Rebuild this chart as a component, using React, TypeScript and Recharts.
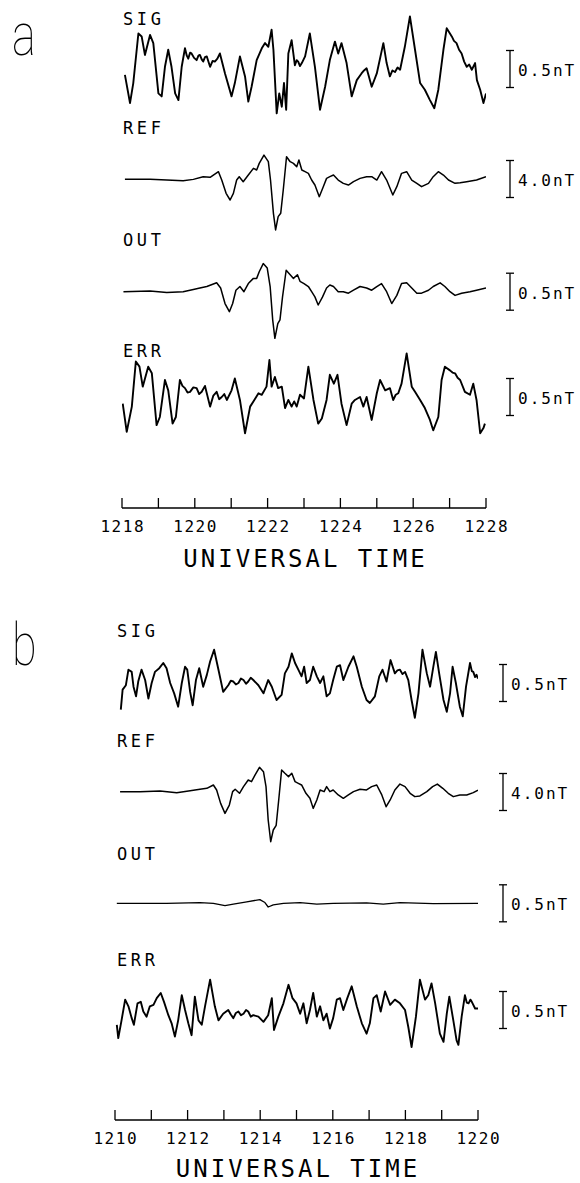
import React from 'react';
import { LineChart, Line, XAxis, YAxis, ReferenceLine } from 'recharts';

type Pt = [number, number];

// ---------- DATA (time in minutes UT, value in nT) ----------
const SIG_A: Pt[] = [[1218.08,-0.08],[1218.22,-0.46],[1218.31,-0.19],[1218.45,0.48],[1218.54,0.44],[1218.63,0.19],[1218.77,0.46],[1218.86,0.35],[1219.00,-0.33],[1219.09,-0.37],[1219.18,0.03],[1219.27,0.26],[1219.36,0.03],[1219.46,-0.33],[1219.55,-0.42],[1219.64,0.03],[1219.73,0.28],[1219.78,0.18],[1219.82,0.14],[1219.87,0.22],[1219.91,0.21],[1219.98,0.15],[1220.05,0.12],[1220.10,0.18],[1220.14,0.19],[1220.19,0.13],[1220.23,0.10],[1220.28,0.16],[1220.33,0.17],[1220.38,0.09],[1220.42,0.03],[1220.49,0.11],[1220.55,0.10],[1220.62,0.14],[1220.69,0.21],[1220.83,-0.06],[1221.01,-0.37],[1221.10,-0.19],[1221.24,0.17],[1221.38,-0.10],[1221.47,-0.44],[1221.56,-0.24],[1221.70,0.12],[1221.84,0.28],[1221.93,0.35],[1222.02,0.30],[1222.11,0.53],[1222.16,0.26],[1222.25,-0.60],[1222.32,-0.33],[1222.39,-0.51],[1222.45,-0.19],[1222.51,-0.55],[1222.57,0.21],[1222.66,0.39],[1222.75,0.05],[1222.80,0.12],[1222.84,0.10],[1222.89,0.04],[1222.94,0.08],[1223.03,0.17],[1223.16,0.48],[1223.30,0.03],[1223.44,-0.55],[1223.58,-0.24],[1223.71,0.12],[1223.85,0.37],[1223.94,0.21],[1224.03,0.35],[1224.17,0.08],[1224.31,-0.37],[1224.45,-0.15],[1224.58,-0.06],[1224.65,-0.02],[1224.72,0.01],[1224.86,-0.24],[1225.00,-0.06],[1225.18,0.35],[1225.27,0.08],[1225.36,-0.10],[1225.43,-0.02],[1225.50,-0.04],[1225.57,0.02],[1225.64,-0.01],[1225.77,0.30],[1225.91,0.71],[1226.05,0.26],[1226.19,-0.19],[1226.32,-0.28],[1226.46,-0.42],[1226.58,-0.53],[1226.69,-0.28],[1226.83,0.26],[1226.92,0.55],[1227.06,0.44],[1227.12,0.38],[1227.19,0.35],[1227.26,0.26],[1227.33,0.21],[1227.40,0.10],[1227.47,0.03],[1227.54,0.06],[1227.61,-0.01],[1227.70,0.08],[1227.75,-0.15],[1227.84,-0.28],[1227.93,-0.46],[1228.0,-0.33]];

const REF_A: Pt[] = [[1218.08,-0.04],[1218.77,-0.04],[1219.23,-0.11],[1219.68,-0.18],[1219.96,-0.04],[1220.23,0.25],[1220.42,0.18],[1220.65,0.79],[1220.74,-0.11],[1220.86,-1.55],[1220.97,-2.27],[1221.06,-1.55],[1221.15,-0.11],[1221.22,0.25],[1221.33,-0.29],[1221.47,0.43],[1221.61,1.15],[1221.70,0.97],[1221.77,1.69],[1221.90,2.59],[1222.02,1.87],[1222.08,-0.11],[1222.16,-3.71],[1222.22,-5.51],[1222.29,-4.07],[1222.36,-3.71],[1222.43,-1.19],[1222.52,2.41],[1222.62,1.87],[1222.71,1.69],[1222.80,1.33],[1222.86,2.05],[1222.94,0.97],[1223.03,0.79],[1223.12,0.61],[1223.21,-0.11],[1223.30,-0.65],[1223.42,-1.91],[1223.53,-0.83],[1223.62,0.07],[1223.71,0.25],[1223.81,0.43],[1223.94,-0.11],[1224.08,-0.47],[1224.22,-0.65],[1224.36,-0.29],[1224.54,0.07],[1224.72,0.25],[1224.86,0.25],[1225.00,-0.11],[1225.13,0.79],[1225.27,-0.11],[1225.44,-1.73],[1225.55,-0.83],[1225.68,0.61],[1225.82,0.79],[1225.96,-0.11],[1226.10,-0.47],[1226.23,-0.83],[1226.42,-0.47],[1226.55,0.25],[1226.69,0.79],[1226.83,0.43],[1226.97,-0.11],[1227.15,-0.47],[1227.29,-0.40],[1227.47,-0.29],[1227.74,-0.11],[1228.0,0.25]];

const OUT_A: Pt[] = [[1218.04,0],[1218.77,0.01],[1219.23,-0.01],[1219.68,0],[1219.96,0.03],[1220.14,0.05],[1220.33,0.07],[1220.60,0.12],[1220.71,0.05],[1220.83,-0.16],[1220.95,-0.27],[1221.04,-0.16],[1221.13,0.02],[1221.24,0.07],[1221.35,0],[1221.47,0.11],[1221.61,0.18],[1221.70,0.18],[1221.77,0.27],[1221.88,0.38],[1221.99,0.32],[1222.07,0.07],[1222.14,-0.38],[1222.20,-0.63],[1222.28,-0.43],[1222.34,-0.38],[1222.41,-0.07],[1222.51,0.29],[1222.62,0.23],[1222.71,0.18],[1222.82,0.23],[1222.89,0.14],[1223.00,0.11],[1223.12,0.07],[1223.21,0],[1223.30,-0.07],[1223.39,-0.18],[1223.51,-0.07],[1223.62,0.05],[1223.71,0.09],[1223.81,0.07],[1223.94,0],[1224.08,0],[1224.22,-0.02],[1224.36,0.02],[1224.54,0.07],[1224.72,0.05],[1224.86,0.02],[1225.00,0.07],[1225.13,0.11],[1225.27,0],[1225.41,-0.16],[1225.55,-0.05],[1225.68,0.11],[1225.82,0.12],[1225.96,0.05],[1226.10,-0.02],[1226.23,-0.02],[1226.42,0.02],[1226.55,0.07],[1226.74,0.12],[1226.87,0.07],[1227.01,0],[1227.15,-0.05],[1227.33,-0.02],[1227.56,0],[1227.74,0.02],[1228.0,0.05]];

const ERR_A: Pt[] = [[1218.02,-0.09],[1218.13,-0.47],[1218.27,-0.13],[1218.38,0.48],[1218.48,0.41],[1218.57,0.14],[1218.72,0.41],[1218.82,0.32],[1218.95,-0.38],[1219.04,-0.27],[1219.18,0.23],[1219.27,0.09],[1219.39,-0.36],[1219.48,-0.27],[1219.59,0.23],[1219.66,0.15],[1219.73,0.12],[1219.80,0.06],[1219.87,0.07],[1219.96,0.13],[1220.05,0.12],[1220.12,0.04],[1220.19,0.07],[1220.28,0.15],[1220.42,-0.13],[1220.51,0.02],[1220.60,0.07],[1220.67,-0.03],[1220.74,0.00],[1220.81,0.04],[1220.88,-0.04],[1221.01,0.09],[1221.10,0.25],[1221.24,-0.04],[1221.38,-0.49],[1221.52,-0.13],[1221.61,-0.06],[1221.75,0.05],[1221.84,0.03],[1221.97,0.14],[1222.05,0.50],[1222.11,0.14],[1222.20,0.27],[1222.29,0.12],[1222.39,0.14],[1222.48,-0.15],[1222.57,-0.04],[1222.66,-0.13],[1222.73,-0.06],[1222.80,-0.13],[1222.89,0.03],[1223.00,-0.02],[1223.12,0.41],[1223.26,-0.04],[1223.39,-0.36],[1223.49,-0.29],[1223.62,-0.04],[1223.71,0.30],[1223.82,0.18],[1223.92,0.30],[1224.03,-0.09],[1224.17,-0.38],[1224.31,-0.09],[1224.40,-0.04],[1224.54,0.00],[1224.63,-0.13],[1224.72,0.00],[1224.86,-0.31],[1225.00,0.05],[1225.09,0.23],[1225.23,0.09],[1225.36,0.12],[1225.45,-0.04],[1225.52,0.03],[1225.59,0.05],[1225.68,0.18],[1225.82,0.59],[1225.96,0.14],[1226.05,0.07],[1226.19,-0.04],[1226.32,-0.15],[1226.46,-0.31],[1226.55,-0.45],[1226.69,-0.27],[1226.78,0.23],[1226.87,0.41],[1227.01,0.36],[1227.08,0.33],[1227.15,0.32],[1227.22,0.26],[1227.29,0.23],[1227.42,0.07],[1227.56,0.03],[1227.65,0.18],[1227.74,-0.04],[1227.84,-0.49],[1227.93,-0.42],[1227.97,-0.36]];

const SIG_B: Pt[] = [[1210.16,-0.36],[1210.21,-0.09],[1210.30,-0.03],[1210.37,0.18],[1210.46,0.15],[1210.51,-0.05],[1210.58,-0.18],[1210.64,0.02],[1210.73,0.18],[1210.83,0.04],[1210.92,-0.21],[1211.01,0.00],[1211.10,0.15],[1211.22,0.20],[1211.33,0.27],[1211.42,0.20],[1211.52,0.00],[1211.63,-0.14],[1211.74,-0.32],[1211.84,0.00],[1211.93,0.22],[1211.99,0.18],[1212.07,-0.12],[1212.14,-0.30],[1212.23,0.04],[1212.32,0.20],[1212.43,-0.05],[1212.53,0.11],[1212.62,0.29],[1212.73,0.45],[1212.85,0.18],[1212.98,-0.12],[1213.12,-0.03],[1213.19,0.03],[1213.26,0.02],[1213.33,-0.02],[1213.40,0.00],[1213.47,0.06],[1213.54,0.04],[1213.61,-0.01],[1213.67,0.02],[1213.74,0.07],[1213.81,0.04],[1213.95,-0.03],[1214.09,-0.14],[1214.22,0.04],[1214.32,-0.05],[1214.45,-0.23],[1214.59,-0.16],[1214.68,0.13],[1214.78,0.22],[1214.87,0.40],[1214.96,0.27],[1215.05,0.18],[1215.14,0.09],[1215.21,0.22],[1215.28,0.00],[1215.37,0.04],[1215.46,0.22],[1215.56,0.09],[1215.65,0.00],[1215.74,0.09],[1215.83,-0.18],[1215.92,-0.14],[1216.01,0.04],[1216.11,0.22],[1216.20,0.24],[1216.29,0.04],[1216.43,0.22],[1216.57,0.36],[1216.66,0.22],[1216.80,-0.05],[1216.93,-0.23],[1217.02,-0.27],[1217.16,-0.18],[1217.28,0.09],[1217.37,0.18],[1217.48,0.02],[1217.59,0.31],[1217.71,0.13],[1217.78,0.17],[1217.85,0.18],[1217.92,0.12],[1217.99,0.15],[1218.08,0.04],[1218.17,-0.23],[1218.26,-0.47],[1218.36,-0.14],[1218.47,0.45],[1218.59,0.13],[1218.68,-0.05],[1218.77,0.22],[1218.84,0.42],[1218.93,0.13],[1219.05,-0.23],[1219.14,-0.39],[1219.23,-0.14],[1219.30,0.22],[1219.39,0.00],[1219.50,-0.32],[1219.58,-0.45],[1219.67,-0.05],[1219.78,0.27],[1219.83,0.16],[1219.87,0.15],[1219.92,0.08],[1219.96,0.11],[1220.0,0.06]];

const REF_B: Pt[] = [[1210.14,0.04],[1210.69,0.04],[1211.24,0.11],[1211.70,-0.07],[1212.07,0.14],[1212.34,0.29],[1212.53,0.40],[1212.71,0.76],[1212.80,0.22],[1212.91,-1.23],[1213.03,-2.31],[1213.15,-1.41],[1213.24,0.04],[1213.31,0.29],[1213.43,-0.14],[1213.54,0.58],[1213.67,1.30],[1213.76,1.12],[1213.86,1.84],[1213.98,2.67],[1214.09,2.20],[1214.16,0.58],[1214.22,-3.03],[1214.29,-5.37],[1214.36,-4.11],[1214.44,-3.60],[1214.51,-0.86],[1214.59,2.38],[1214.68,2.02],[1214.78,1.66],[1214.87,2.02],[1214.96,1.12],[1215.05,0.94],[1215.14,0.76],[1215.26,-0.14],[1215.37,-0.68],[1215.46,-1.77],[1215.56,-0.86],[1215.65,0.22],[1215.76,0.04],[1215.83,0.58],[1215.92,0.04],[1216.01,0.22],[1216.15,-0.32],[1216.29,-0.68],[1216.43,-0.32],[1216.57,0.04],[1216.75,0.29],[1216.93,0.22],[1217.07,0.58],[1217.21,0.76],[1217.35,-0.32],[1217.47,-1.59],[1217.58,-0.86],[1217.71,0.22],[1217.85,0.86],[1217.99,0.58],[1218.13,-0.14],[1218.26,-0.50],[1218.40,-0.43],[1218.59,0.04],[1218.75,0.58],[1218.88,0.86],[1219.03,0.40],[1219.18,-0.14],[1219.32,-0.50],[1219.50,-0.32],[1219.69,-0.32],[1219.87,-0.07],[1220.0,0.20]];

const OUT_B: Pt[] = [[1210.05,0],[1211.42,0],[1212.34,0.01],[1212.71,0],[1213.03,-0.03],[1213.26,-0.01],[1213.63,0.02],[1213.99,0.05],[1214.13,0.01],[1214.22,-0.05],[1214.36,-0.02],[1214.64,0],[1215.10,0.01],[1215.56,-0.01],[1216.01,0],[1216.93,0.005],[1217.39,-0.01],[1217.85,0.01],[1218.77,-0.005],[1220.0,0]];

const ERR_B: Pt[] = [[1210.05,-0.20],[1210.09,-0.38],[1210.18,-0.14],[1210.28,0.14],[1210.37,0.05],[1210.46,-0.11],[1210.52,-0.20],[1210.62,0.09],[1210.71,0.11],[1210.78,-0.02],[1210.87,-0.09],[1210.96,0.05],[1211.06,0.07],[1211.15,0.16],[1211.26,0.23],[1211.35,0.11],[1211.47,-0.07],[1211.56,-0.18],[1211.65,-0.36],[1211.74,-0.14],[1211.84,0.20],[1211.93,0.00],[1212.02,-0.18],[1212.11,-0.34],[1212.20,0.18],[1212.30,-0.14],[1212.39,-0.20],[1212.48,0.05],[1212.62,0.41],[1212.75,0.05],[1212.85,-0.14],[1212.98,-0.05],[1213.12,0.00],[1213.19,-0.06],[1213.26,-0.11],[1213.33,-0.04],[1213.40,-0.02],[1213.47,-0.07],[1213.54,-0.05],[1213.61,0.00],[1213.67,-0.02],[1213.74,-0.09],[1213.81,-0.07],[1213.95,-0.09],[1214.09,-0.16],[1214.22,-0.07],[1214.32,0.16],[1214.38,-0.27],[1214.50,-0.09],[1214.64,0.09],[1214.78,0.34],[1214.89,0.16],[1215.00,0.09],[1215.10,-0.05],[1215.19,0.09],[1215.28,-0.18],[1215.37,0.00],[1215.46,0.23],[1215.56,-0.09],[1215.65,0.05],[1215.74,-0.14],[1215.83,-0.05],[1215.92,-0.25],[1216.01,-0.11],[1216.11,0.14],[1216.20,0.16],[1216.29,0.00],[1216.40,0.16],[1216.52,0.32],[1216.66,0.05],[1216.80,-0.18],[1216.93,-0.32],[1217.02,-0.18],[1217.12,0.16],[1217.21,0.20],[1217.32,-0.02],[1217.44,0.25],[1217.58,0.07],[1217.71,0.14],[1217.85,0.09],[1217.99,0.00],[1218.08,-0.23],[1218.17,-0.50],[1218.29,-0.09],[1218.40,0.41],[1218.54,0.14],[1218.63,0.20],[1218.72,0.36],[1218.82,0.09],[1218.95,-0.32],[1219.05,-0.43],[1219.14,-0.05],[1219.21,0.18],[1219.32,-0.14],[1219.41,-0.41],[1219.46,-0.47],[1219.55,-0.09],[1219.64,0.20],[1219.69,0.10],[1219.74,0.09],[1219.79,0.14],[1219.83,0.11],[1219.92,0.02],[1220.0,0.02]];

const TICKS_A = [1218, 1219, 1220, 1221, 1222, 1223, 1224, 1225, 1226, 1227, 1228];
const TICK_LABELS_A = ['1218', '1220', '1222', '1224', '1226', '1228'];
const TICKS_B = [1210, 1211, 1212, 1213, 1214, 1215, 1216, 1217, 1218, 1219, 1220];
const TICK_LABELS_B = ['1210', '1212', '1214', '1216', '1218', '1220'];
const AXIS_TITLE = 'UNIVERSAL TIME';

// ---------- LAYOUT ----------
const FONT = '"DejaVu Sans Mono", "Liberation Mono", monospace';
const W = 580;
const PX_SMALL = 74; // px per nT for 0.5 nT traces
const PX_REF = 9.25; // px per nT for 4.0 nT trace

type TraceCfg = {
  id: string; name: string; data: Pt[]; centerY: number; pxPerUnit: number;
  barValue: number; barText: string; nameBaseline: number; strokeWidth: number;
};
type PanelCfg = {
  letter: string; letterBaseline: number; top: number; height: number;
  plotLeft: number; plotRight: number; axisY: number; domain: [number, number];
  ticks: number[]; tickLabels: string[]; barX: number; nameX: number;
  titleBaseline: number; traces: TraceCfg[];
};

const PANEL_A: PanelCfg = {
  letter: 'a', letterBaseline: 55, top: 0, height: 580, plotLeft: 122, plotRight: 486,
  axisY: 508, domain: [1218, 1228], ticks: TICKS_A, tickLabels: TICK_LABELS_A,
  barX: 510, nameX: 123, titleBaseline: 567,
  traces: [
    { id: 'sig', name: 'SIG', data: SIG_A, centerY: 69, pxPerUnit: PX_SMALL, barValue: 0.5, barText: '0.5nT', nameBaseline: 25, strokeWidth: 1.9 },
    { id: 'ref', name: 'REF', data: REF_A, centerY: 179, pxPerUnit: PX_REF, barValue: 4.0, barText: '4.0nT', nameBaseline: 134, strokeWidth: 1.5 },
    { id: 'out', name: 'OUT', data: OUT_A, centerY: 291.7, pxPerUnit: PX_SMALL, barValue: 0.5, barText: '0.5nT', nameBaseline: 246, strokeWidth: 1.5 },
    { id: 'err', name: 'ERR', data: ERR_A, centerY: 397, pxPerUnit: PX_SMALL, barValue: 0.5, barText: '0.5nT', nameBaseline: 357, strokeWidth: 1.9 },
  ],
};

const PANEL_B: PanelCfg = {
  letter: 'b', letterBaseline: 665, top: 600, height: 583, plotLeft: 115, plotRight: 478,
  axisY: 1120, domain: [1210, 1220], ticks: TICKS_B, tickLabels: TICK_LABELS_B,
  barX: 503, nameX: 117, titleBaseline: 1177,
  traces: [
    { id: 'sig', name: 'SIG', data: SIG_B, centerY: 683, pxPerUnit: PX_SMALL, barValue: 0.5, barText: '0.5nT', nameBaseline: 637, strokeWidth: 1.9 },
    { id: 'ref', name: 'REF', data: REF_B, centerY: 792, pxPerUnit: PX_REF, barValue: 4.0, barText: '4.0nT', nameBaseline: 747, strokeWidth: 1.5 },
    { id: 'out', name: 'OUT', data: OUT_B, centerY: 903.3, pxPerUnit: PX_SMALL, barValue: 0.5, barText: '0.5nT', nameBaseline: 860, strokeWidth: 1.3 },
    { id: 'err', name: 'ERR', data: ERR_B, centerY: 1010, pxPerUnit: PX_SMALL, barValue: 0.5, barText: '0.5nT', nameBaseline: 966, strokeWidth: 1.9 },
  ],
};

function Panel({ cfg }: { cfg: PanelCfg }) {
  const plotH = cfg.axisY - cfg.top;
  const [d0, d1] = cfg.domain;
  const pxPerMin = (cfg.plotRight - cfg.plotLeft) / (d1 - d0);
  const tBar = d0 + (cfg.barX - cfg.plotLeft) / pxPerMin;
  const serif = 4 / pxPerMin;

  const tick = (p: any) => {
    const s = String(p.payload.value);
    return (
      <g>
        <line x1={p.x} x2={p.x} y1={p.y} y2={p.y - 10} stroke="#000" strokeWidth={1.3} />
        {cfg.tickLabels.includes(s) ? (
          <text x={p.x + 0.75} y={p.y + 24} textAnchor="middle" fontFamily={FONT} fontSize={16} letterSpacing={1.5} fill="#000">{s}</text>
        ) : null}
      </g>
    );
  };

  const title = (p: any) => {
    const vb = p.viewBox || { x: cfg.plotLeft, width: cfg.plotRight - cfg.plotLeft };
    return (
      <text x={vb.x + vb.width / 2 + 1.5} y={cfg.titleBaseline - cfg.top} textAnchor="middle" fontFamily={FONT} fontSize={24} letterSpacing={3} fill="#000">{AXIS_TITLE}</text>
    );
  };

  const children: React.ReactNode[] = [];
  children.push(
    <XAxis key="x" xAxisId="t" type="number" dataKey="t" domain={cfg.domain} allowDataOverflow
      ticks={cfg.ticks} interval={0} tickSize={0} tickMargin={0} tickLine={false}
      axisLine={{ stroke: '#000', strokeWidth: 1.3 }} height={cfg.height - plotH}
      tick={tick} label={title} />
  );
  cfg.traces.forEach((tr) => {
    const c = tr.centerY - cfg.top;
    children.push(
      <YAxis key={'y' + tr.id} yAxisId={tr.id} hide width={0} type="number" allowDataOverflow
        domain={[-(plotH - c) / tr.pxPerUnit, c / tr.pxPerUnit]} />
    );
  });
  cfg.traces.forEach((tr) => {
    const rows = tr.data.map(([t, v]) => ({ t, v }));
    children.push(
      <Line key={'l' + tr.id} xAxisId="t" yAxisId={tr.id} data={rows} dataKey="v" type="linear"
        stroke="#000" strokeWidth={tr.strokeWidth} dot={false} activeDot={false}
        isAnimationActive={false} strokeLinejoin="round" />
    );
  });
  cfg.traces.forEach((tr) => {
    const h = tr.barValue / 2;
    children.push(
      <ReferenceLine key={'bv' + tr.id} xAxisId="t" yAxisId={tr.id} ifOverflow="visible"
        segment={[{ x: tBar, y: -h }, { x: tBar, y: h }]} stroke="#000" strokeWidth={1.3}
        label={(p: any) => (
          <text x={p.viewBox.x + 8} y={p.viewBox.y + p.viewBox.height / 2 + 7} fontFamily={FONT} fontSize={16} letterSpacing={2} fill="#000">{tr.barText}</text>
        )} />
    );
    children.push(
      <ReferenceLine key={'bt' + tr.id} xAxisId="t" yAxisId={tr.id} ifOverflow="visible"
        segment={[{ x: tBar - serif, y: h }, { x: tBar + serif, y: h }]} stroke="#000" strokeWidth={1.3} />
    );
    children.push(
      <ReferenceLine key={'bb' + tr.id} xAxisId="t" yAxisId={tr.id} ifOverflow="visible"
        segment={[{ x: tBar - serif, y: -h }, { x: tBar + serif, y: -h }]} stroke="#000" strokeWidth={1.3} />
    );
  });

  return (
    <div style={{ position: 'absolute', left: 0, top: cfg.top }}>
      <LineChart width={W} height={cfg.height}
        margin={{ top: 0, right: W - cfg.plotRight, bottom: 0, left: cfg.plotLeft }}>
        {children}
      </LineChart>
    </div>
  );
}

function Labels() {
  const panels = [PANEL_A, PANEL_B];
  return (
    <svg width={W} height={1183} style={{ position: 'absolute', left: 0, top: 0, pointerEvents: 'none' }}>
      {panels.map((p) => (
        <g key={p.letter}>
          <text transform={`translate(12, ${p.letterBaseline}) scale(0.75, 1)`} fontFamily="Roboto, 'DejaVu Sans', sans-serif" fontWeight={100} fontSize={60} fill="#000">{p.letter}</text>
          {p.traces.map((tr) => (
            <text key={tr.id} x={p.nameX} y={tr.nameBaseline} fontFamily={FONT} fontSize={17} letterSpacing={3.6} fill="#000">{tr.name}</text>
          ))}
        </g>
      ))}
    </svg>
  );
}

export default function App() {
  return (
    <div style={{ position: 'absolute', left: 0, top: 0, width: W, height: 1183, overflow: 'hidden', background: '#fff' }}>
      <Panel cfg={PANEL_A} />
      <Panel cfg={PANEL_B} />
      <Labels />
    </div>
  );
}
